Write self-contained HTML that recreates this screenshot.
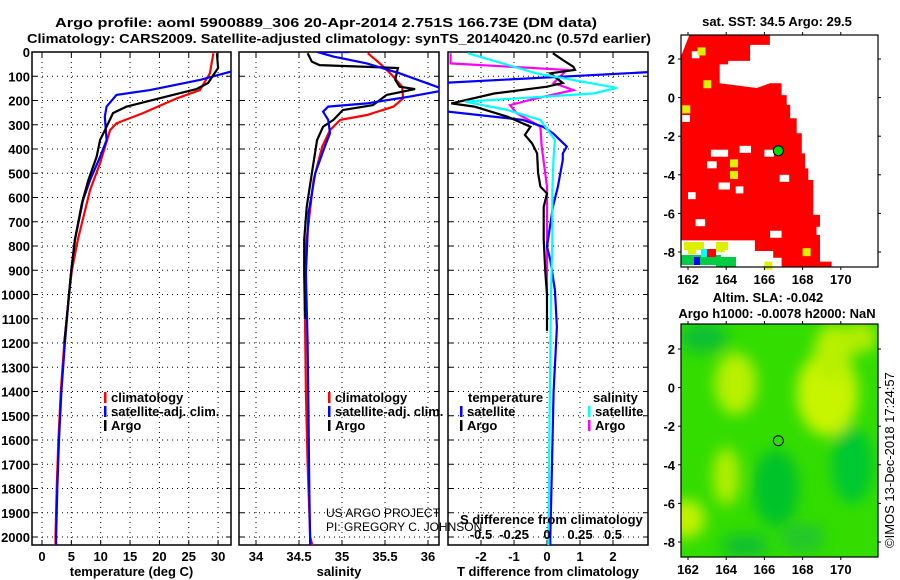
<!DOCTYPE html>
<html><head><meta charset="utf-8"><style>
body{margin:0;background:#fff;}
svg{display:block;font-family:"Liberation Sans",sans-serif;}
.b{font-weight:bold;font-size:13px;}
</style></head><body>
<svg id="c" width="900" height="580" viewBox="0 0 900 580">
<defs>
<clipPath id="cp1"><rect x="32" y="52" width="199" height="493"/></clipPath>
<clipPath id="cp2"><rect x="239" y="52" width="200" height="493"/></clipPath>
<clipPath id="cp3"><rect x="448" y="52" width="200" height="493"/></clipPath>
<clipPath id="cpm1"><rect x="681" y="35" width="197" height="232"/></clipPath>
<clipPath id="cpm2"><rect x="681" y="324" width="197" height="233"/></clipPath>
<filter id="blur" x="-50%" y="-50%" width="200%" height="200%"><feGaussianBlur stdDeviation="7"/></filter>
</defs>
<text x="55" y="27" class="b" font-size="15" textLength="542" lengthAdjust="spacingAndGlyphs">Argo profile: aoml 5900889_306 20-Apr-2014 2.751S 166.73E (DM data)</text>
<text x="27" y="43" class="b" font-size="15" textLength="624" lengthAdjust="spacingAndGlyphs">Climatology: CARS2009. Satellite-adjusted climatology: synTS_20140420.nc (0.57d earlier)</text>
<g id="g"></g>
</svg>
<script>
// ---------- data ----------
const depthTicks=[0,100,200,300,400,500,600,700,800,900,1000,1100,1200,1300,1400,1500,1600,1700,1800,1900,2000];
const tempTicks=[0,5,10,15,20,25,30];
const salTicks=[34,34.5,35,35.5,36];
const salTickLabels=["34","34.5","35","35.5","36"];
const dTTicks=[-2,-1,0,1,2];
const dSTicks=[-0.5,-0.25,0,0.25,0.5];
const dSTickLabels=["-0.5","-0.25","0","0.25","0.5"];

const argoTDepth=[5,66,128,153,184,225,252,308,363,432,528,624,775,900,1000,1100,1200];
const argoT=[29.8,30,28.3,26.3,21.2,14.4,12.1,11,9.9,9.3,7.9,6.8,5.6,5.0,4.6,4.2,3.8];
const climTDepth=[5,88,157,191,252,294,322,458,569,775,900,1000,1200,1400,1600,1800,2000,2040];
const climT=[29.2,28.6,26.9,23,17.2,12.7,11.6,9.9,8.2,6.1,5.1,4.6,3.8,3.2,2.8,2.5,2.3,2.3];
const satTDepth=[0,81,115,157,177,225,267,363,432,528,610,775,900,1000,1200,1400,1600,1800,2000,2040];
const satT=[34,32.2,26.9,18.4,12.7,11,10.7,11,9.9,8.2,7,5.6,5.0,4.6,3.9,3.3,2.9,2.6,2.4,2.4];

const argoSDepth=[5,40,54,66,115,143,153,177,219,239,280,308,363,499,639,775,912,1100];
const argoS=[34.60,34.65,34.74,35.65,35.62,35.67,35.85,35.52,35.36,35.01,34.9,34.78,34.71,34.65,34.59,34.56,34.56,34.57];
const climSDepth=[5,47,88,143,191,225,260,280,322,390,528,830,1100,1400,1700,2000,2040];
const climS=[35.3,35.44,35.56,35.70,35.71,35.6,35.29,34.98,34.86,34.77,34.67,34.57,34.57,34.58,34.6,34.63,34.66];
const satSDepth=[0,0,19,47,88,143,157,184,212,225,246,280,335,390,499,665,912,1200,1500,1800,2040];
const satS=[35.09,34.71,34.9,35.29,35.67,36.1,36.2,35.79,35.29,34.84,34.78,34.84,34.86,34.8,34.69,34.61,34.58,34.6,34.61,34.62,34.63];

const argoDTDepth=[5,33,61,74,88,128,143,171,212,225,267,308,342,377,418,499,555,583,639,775,912,1000,1150];
const argoDT=[0.18,0.48,0.8,0.85,0.1,0.48,0,-1.6,-2.9,-2.2,-1.2,-0.5,-0.67,-0.45,-0.3,-0.27,-0.2,0,-0.1,-0.1,-0.05,0,0];
const satDTDepth=[80,128,243,280,308,335,390,418,445,555,639,803,858,981,1134,1400,1700,2000,2040];
const satDT=[3.5,-3.2,-3.2,-0.73,-0.12,0.18,0.6,0.48,0.48,0.33,0.18,0,0.1,0.24,0.3,0.2,0.15,0.1,0.1];
const argoDSDepth=[5,47,74,128,157,191,219,252,308,390,555,800,1000];
const argoDS=[-0.73,-0.73,0.15,0.05,0.2,-0.08,-0.28,-0.23,-0.05,-0.04,0,0,0];
const satDSDepth=[5,88,148,171,205,239,280,363,432,569,775,1000,1500,2040];
const satDS=[-0.6,-0.08,0.53,0.35,-0.62,-0.3,-0.05,0.06,0.05,0.04,0.04,0.03,0.02,0.01];

const lonTicks=[162,164,166,168,170];
const latTicks=[2,0,-2,-4,-6,-8];
const sstRegionLon=[162.07,166.29,166.29,165.25,165.25,164.1,164.1,163.66,163.66,165.6,166.29,166.9,166.9,167.17,167.17,167.35,167.35,167.69,167.69,167.96,167.96,168.13,168.13,168.3,168.3,168.56,168.56,168.91,168.91,168.73,168.73,168.91,168.91,169.52,169.52,166.9,166.9,166.46,166.46,165.5,165.5,161.62,161.62,162.07];
const sstRegionLat=[3.24,3.24,2.73,2.73,1.9,1.9,1.72,1.72,0.74,0.5,0.74,0.74,0.13,0.13,-0.38,-0.38,-1.07,-1.07,-1.85,-1.85,-2.89,-2.89,-3.67,-3.67,-4.27,-4.27,-6.08,-6.08,-6.69,-6.69,-7.12,-7.12,-8.5,-8.5,-8.8,-8.8,-8.3,-8.3,-7.95,-7.95,-7.4,-7.4,2.1,3.24];
const sstHoleLon=[162.2,161.7,164.7,163.2,166.0,163.0,163.6,164.5,162.0,166.8,162.4,166.3,163.8,163.2];
const sstHoleLat=[2.4,-0.9,-2.5,-2.7,-2.7,-3.3,-4.4,-4.6,-4.9,-4.0,-6.3,-6.9,-8.2,-8.2];
const sstHoleW=[0.4,0.4,0.6,0.9,0.5,0.5,0.6,0.4,0.4,0.5,0.5,0.6,0.9,0.4];
const sstYellowLon=[162.5,162.8,161.7,164.2,164.2,163.5,162.0,168.0,166.0];
const sstYellowLat=[2.6,0.9,-0.4,-3.2,-3.8,-7.6,-7.7,-7.8,-8.5];
const argoLon=166.73, argoLat=-2.751;
const slaBlobLon=[164.5,169.3,169.6,164.0,161.9,171.0,166.6,170.6,162.8,165.0,168.0];
const slaBlobLat=[0.2,-0.3,1.8,-4.6,-6.8,2.6,-5.2,-4.0,2.6,-8.2,-7.8];
const slaBlobRx=[1.1,1.6,1.0,0.7,1.0,0.9,1.2,1.1,1.3,1.3,1.2];
const slaBlobRy=[1.6,2.2,1.5,1.5,1.0,0.8,2.0,2.0,0.8,0.6,0.8];
const slaBlobColor=["#b8f000","#c8f400","#b8f000","#b0ee00","#c0f200","#b0ee00","#00c22a","#00c830","#10c030","#10c030","#20c82a"];

// ---------- helpers ----------
const NS="http://www.w3.org/2000/svg";
const root=document.getElementById('g');
function mk(tag,attrs,parent){const e=document.createElementNS(NS,tag);for(const k in attrs)e.setAttribute(k,attrs[k]);(parent||root).appendChild(e);return e;}
const yD=d=>52+d*0.2425;
const xT=t=>42+t*5.87;
const xS=s=>256+(s-34)*86;
const xDT=t=>547+t*33;
const xDS=s=>547+s*132;
const mX=lon=>688+(lon-162)*19.1;
const mY1=lat=>59+(2-lat)*19.3;
const mY2=lat=>349+(2-lat)*19.3;

function panel(x0,x1,xs,vals,labels,clip,name,title){
  const g=mk('g',{});
  
  
  depthTicks.forEach(d=>{
    if(d>0){const l=mk('line',{x1:x0,x2:x1,y1:yD(d),y2:yD(d),stroke:'#000','stroke-width':1,'stroke-dasharray':'1,4'},g);
    }
    mk('line',{x1:x0,x2:x0+5,y1:yD(d),y2:yD(d),stroke:'#000'},g);
    mk('line',{x1:x1-5,x2:x1,y1:yD(d),y2:yD(d),stroke:'#000'},g);
  });
  vals.forEach((v,i)=>{
    const x=xs(v);
    const l=mk('line',{x1:x,x2:x,y1:52,y2:545,stroke:'#000','stroke-dasharray':'1,4'},g);
    
    mk('line',{x1:x,x2:x,y1:52,y2:57,stroke:'#000'},g);
    mk('line',{x1:x,x2:x,y1:540,y2:545,stroke:'#000'},g);
    const t=mk('text',{x:x,y:561,'text-anchor':'middle',class:'b'},g);t.textContent=labels[i];
    
  });
  const f=mk('rect',{x:x0,y:52,width:x1-x0,height:493,fill:'none',stroke:'#000','stroke-width':1.5},g);
  
  const tt=mk('text',{x:(x0+x1)/2,y:576,'text-anchor':'middle',class:'b'},g);tt.textContent=title;
  
  return g;
}
function line(depths,vals,xs,color,clip,name){
  const pts=depths.map((d,i)=>xs(vals[i]).toFixed(1)+','+yD(d).toFixed(1)).join(' ');
  const p=mk('polyline',{points:pts,fill:'none',stroke:color,'stroke-width':2.2,'clip-path':'url(#'+clip+')','stroke-linejoin':'miter'});
  
  
}
function txt(x,y,s,opts,name){const t=mk('text',Object.assign({x:x,y:y},opts||{}));t.textContent=s;
  return t;}
function legend(x,y,color,label,name){
  mk('rect',{x:x,y:y-10,width:2.5,height:11,fill:color});
  txt(x+7,y,label,{class:'b'},name);
}

depthTicks.forEach(d=>{txt(30,yD(d)+5,String(d),{'text-anchor':'end',class:'b'},'y-tick-label');});

panel(32,231,xT,tempTicks,tempTicks.map(String),'cp1','temperature-panel','temperature (deg C)');
panel(239,439,xS,salTicks,salTickLabels,'cp2','salinity-panel','salinity');
panel(448,648,xDT,dTTicks,dTTicks.map(String),'cp3','difference-panel','T difference from climatology');

line(climTDepth,climT,xT,'#ff0000','cp1','temp-climatology-line');
line(satTDepth,satT,xT,'#0000ff','cp1','temp-satellite-line');
line(argoTDepth,argoT,xT,'#000000','cp1','temp-argo-line');
line(climSDepth,climS,xS,'#ff0000','cp2','sal-climatology-line');
line(argoSDepth,argoS,xS,'#000000','cp2','sal-argo-line');
line(satSDepth,satS,xS,'#0000ff','cp2','sal-satellite-line');
line(argoDSDepth,argoDS,xDS,'#ff00ff','cp3','sdiff-argo-line');
line(satDTDepth,satDT,xDT,'#0000ff','cp3','tdiff-satellite-line');
line(argoDTDepth,argoDT,xDT,'#000000','cp3','tdiff-argo-line');
line(satDSDepth,satDS,xDS,'#00ffff','cp3','sdiff-satellite-line');

legend(104,402,'#ff0000','climatology','legend-climatology');
legend(104,416,'#0000ff','satellite-adj. clim.','legend-satellite');
legend(104,430,'#000000','Argo','legend-argo');
legend(328,402,'#ff0000','climatology','legend-sal-climatology');
legend(328,416,'#0000ff','satellite-adj. clim.','legend-sal-satellite');
legend(328,430,'#000000','Argo','legend-sal-argo');
txt(468,402,'temperature',{class:'b'},'legend-temperature-heading');
legend(460,416,'#0000ff','satellite','legend-t-satellite');
legend(460,430,'#000000','Argo','legend-t-argo');
txt(593,402,'salinity',{class:'b'},'legend-salinity-heading');
legend(588,416,'#00ffff','satellite','legend-s-satellite');
legend(588,430,'#ff00ff','Argo','legend-s-argo');

txt(326,517,'US ARGO PROJECT',{'font-size':12},'credit-project');
txt(326,531,'PI: GREGORY C. JOHNSON',{'font-size':12},'credit-pi');
txt(460,524,'S difference from climatology',{class:'b'},'s-axis-title');
dSTicks.forEach((v,i)=>txt(xDS(v),539,dSTickLabels[i],{'text-anchor':'middle',class:'b'},'s-tick-label'));

// ---------- maps ----------
function mapFrame(y0,y1,mY,name){
  const f=mk('rect',{x:681,y:y0,width:197,height:y1-y0,fill:'none',stroke:'#000','stroke-width':1.2});
  
  lonTicks.forEach(l=>{const x=mX(l);mk('line',{x1:x,x2:x,y1:y0,y2:y0-3,stroke:'#000'});mk('line',{x1:x,x2:x,y1:y1,y2:y1+3,stroke:'#000'});
    txt(x,y1+17,String(l),{'text-anchor':'middle',class:'b'},'lon-tick-label');});
  latTicks.forEach(l=>{const y=mY(l);mk('line',{x1:681,x2:678,y1:y,y2:y,stroke:'#000'});mk('line',{x1:878,x2:881,y1:y,y2:y,stroke:'#000'});
    txt(675,y+5,String(l),{'text-anchor':'end',class:'b'},'lat-tick-label');});
}
const pts=sstRegionLon.map((l,i)=>mX(l).toFixed(1)+','+mY1(sstRegionLat[i]).toFixed(1)).join(' ');
const reg=mk('polygon',{points:pts,fill:'#ff0000','clip-path':'url(#cpm1)'});

sstHoleLon.forEach((l,i)=>{const r=mk('rect',{x:mX(l),y:mY1(sstHoleLat[i]),width:sstHoleW[i]*19.1,height:7,fill:'#fff'});
  });
sstYellowLon.forEach((l,i)=>{const r=mk('rect',{x:mX(l),y:mY1(sstYellowLat[i]),width:8,height:8,fill:'#ddf000'});
  });
[['#00cc44',681,255,40,10],['#ddf000',684,242,20,8],['#00ffff',701,249,10,8],['#0000ff',694,257,6,8],['#ddf000',716,242,12,8],['#00cc44',716,257,20,10],['#ff0000',707,249,9,8]].forEach(c=>{
  const r=mk('rect',{x:c[1],y:c[2],width:c[3],height:c[4],fill:c[0]});});
const d1=mk('circle',{cx:mX(argoLon),cy:mY1(argoLat),r:5,fill:'#00dd00',stroke:'#000','stroke-width':1});

mapFrame(35,267,mY1,'sst-map-frame');
txt(777,26,'sat. SST: 34.5 Argo: 29.5',{'text-anchor':'middle',class:'b'},'sst-map-title');

const bg=mk('rect',{x:681,y:324,width:197,height:233,fill:'#33dd00'});

const bl=mk('g',{'clip-path':'url(#cpm2)'});
const bl2=mk('g',{filter:'url(#blur)'},bl);
slaBlobLon.forEach((l,i)=>{const e=mk('ellipse',{cx:mX(l),cy:mY2(slaBlobLat[i]),rx:slaBlobRx[i]*19.1,ry:slaBlobRy[i]*19.3,fill:slaBlobColor[i]},bl2);
  });
const d2=mk('circle',{cx:mX(argoLon),cy:mY2(argoLat),r:5,fill:'none',stroke:'#000','stroke-width':1});

mapFrame(324,557,mY2,'sla-map-frame');
txt(768,302,'Altim. SLA: -0.042',{'text-anchor':'middle',class:'b'},'sla-map-title');
txt(777,318,'Argo h1000: -0.0078 h2000: NaN',{'text-anchor':'middle',class:'b'},'sla-map-subtitle');
txt(0,0,'©IMOS 13-Dec-2018 17:24:57',{transform:'translate(894,548) rotate(-90)','font-size':13},'timestamp');
</script>
</body></html>
